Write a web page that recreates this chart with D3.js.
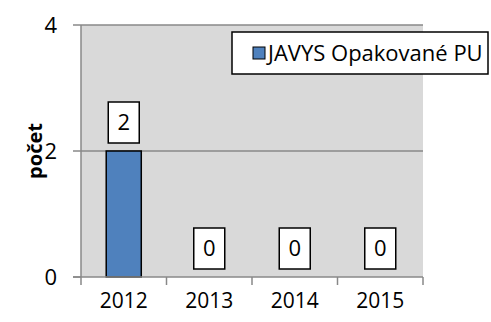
<!DOCTYPE html>
<html>
<head>
<meta charset="utf-8">
<script src="https://cdn.jsdelivr.net/npm/d3@7"></script>
<style>
  html, body { margin: 0; padding: 0; background: #fff; }
  svg { display: block; font-family: "Open Sans", "Liberation Sans", sans-serif; }
</style>
</head>
<body>
<svg id="chart" width="491" height="322"></svg>
<script>
// Chart data
const years = ["2012", "2013", "2014", "2015"];
const counts = [2, 0, 0, 0];
const yTicks = [0, 2, 4];
const seriesName = "JAVYS Opakované PU";
const yTitle = "počet";

const svg = d3.select("#chart");
const plot = { left: 81, right: 423, top: 25, bottom: 277 };

const x = d3.scaleBand()
  .domain(years)
  .range([plot.left, plot.right])
  .paddingInner(0.59)
  .paddingOuter(0.295);

const y = d3.scaleLinear().domain([0, 4]).range([plot.bottom, plot.top]);

// Plot area background
svg.append("rect")
  .attr("x", plot.left).attr("y", plot.top)
  .attr("width", plot.right - plot.left).attr("height", plot.bottom - plot.top)
  .attr("fill", "#d9d9d9");

// Horizontal gridlines + y ticks
const axisColor = "#888888";
svg.selectAll("line.grid").data(yTicks.filter(d => d > 0)).join("line")
  .attr("x1", plot.left).attr("x2", plot.right)
  .attr("y1", d => y(d)).attr("y2", d => y(d))
  .attr("stroke", axisColor).attr("stroke-width", 1.5);

svg.selectAll("line.ytick").data(yTicks).join("line")
  .attr("x1", plot.left - 8).attr("x2", plot.left)
  .attr("y1", d => y(d)).attr("y2", d => y(d))
  .attr("stroke", axisColor).attr("stroke-width", 1.5);

svg.selectAll("text.ylab").data(yTicks).join("text")
  .attr("x", 57).attr("y", d => y(d))
  .attr("dy", "0.36em")
  .attr("text-anchor", "end")
  .attr("font-size", 22)
  .attr("fill", "#000")
  .text(d => d);

// Bars
svg.selectAll("rect.bar").data(years).join("rect")
  .attr("x", d => x(d))
  .attr("y", (d, i) => y(counts[i]))
  .attr("width", x.bandwidth())
  .attr("height", (d, i) => y(0) - y(counts[i]))
  .attr("fill", "#4f81bd")
  .attr("stroke", "#000").attr("stroke-width", 1.5)
  .attr("display", (d, i) => counts[i] > 0 ? null : "none");

// Axes lines
svg.append("line")
  .attr("x1", plot.left).attr("x2", plot.left)
  .attr("y1", plot.top).attr("y2", plot.bottom)
  .attr("stroke", axisColor).attr("stroke-width", 1.5);
svg.append("line")
  .attr("x1", plot.left - 8).attr("x2", plot.right)
  .attr("y1", plot.bottom).attr("y2", plot.bottom)
  .attr("stroke", axisColor).attr("stroke-width", 1.5);

// X tick marks at category boundaries
const gap = (x.step() - x.bandwidth()) / 2;
const boundaries = years.map(d => x(d) - gap).concat([plot.right]);
svg.selectAll("line.xtick").data(boundaries).join("line")
  .attr("x1", d => d).attr("x2", d => d)
  .attr("y1", plot.bottom).attr("y2", plot.bottom + 8)
  .attr("stroke", axisColor).attr("stroke-width", 1.5);

svg.selectAll("text.xlab").data(years).join("text")
  .attr("x", d => x(d) + x.bandwidth() / 2)
  .attr("y", 308)
  .attr("text-anchor", "middle")
  .attr("font-size", 21)
  .attr("fill", "#000")
  .text(d => d);

// Value labels in boxes
const boxW = 31, boxH = 41;
const lbl = svg.selectAll("g.vlabel").data(years).join("g")
  .attr("transform", (d, i) =>
    `translate(${x(d) + x.bandwidth() / 2},${y(counts[i]) - 8 - boxH})`);
lbl.append("rect")
  .attr("x", -boxW / 2).attr("y", 0)
  .attr("width", boxW).attr("height", boxH)
  .attr("fill", "#fff").attr("stroke", "#000").attr("stroke-width", 1.5);
lbl.append("text")
  .attr("x", 0).attr("y", boxH / 2)
  .attr("dy", "0.36em")
  .attr("text-anchor", "middle")
  .attr("font-size", 22)
  .attr("fill", "#000")
  .text((d, i) => counts[i]);

// Y axis title
svg.append("text")
  .attr("transform", "translate(35,151) rotate(-90)")
  .attr("text-anchor", "middle")
  .attr("dy", "0.36em")
  .attr("font-size", 20)
  .attr("font-weight", "bold")
  .attr("fill", "#000")
  .text(yTitle);

// Legend
const legend = svg.append("g").attr("transform", "translate(232,32)");
legend.append("rect")
  .attr("x", 0).attr("y", 0).attr("width", 256).attr("height", 42)
  .attr("fill", "#fff").attr("stroke", "#000").attr("stroke-width", 1.5);
legend.append("rect")
  .attr("x", 21).attr("y", 15).attr("width", 12).attr("height", 12)
  .attr("fill", "#4f81bd").attr("stroke", "#000").attr("stroke-width", 1);
legend.append("text")
  .attr("x", 36).attr("y", 21)
  .attr("dy", "0.36em")
  .attr("font-size", 22)
  .attr("fill", "#000")
  .text(seriesName);
</script>
</body>
</html>
